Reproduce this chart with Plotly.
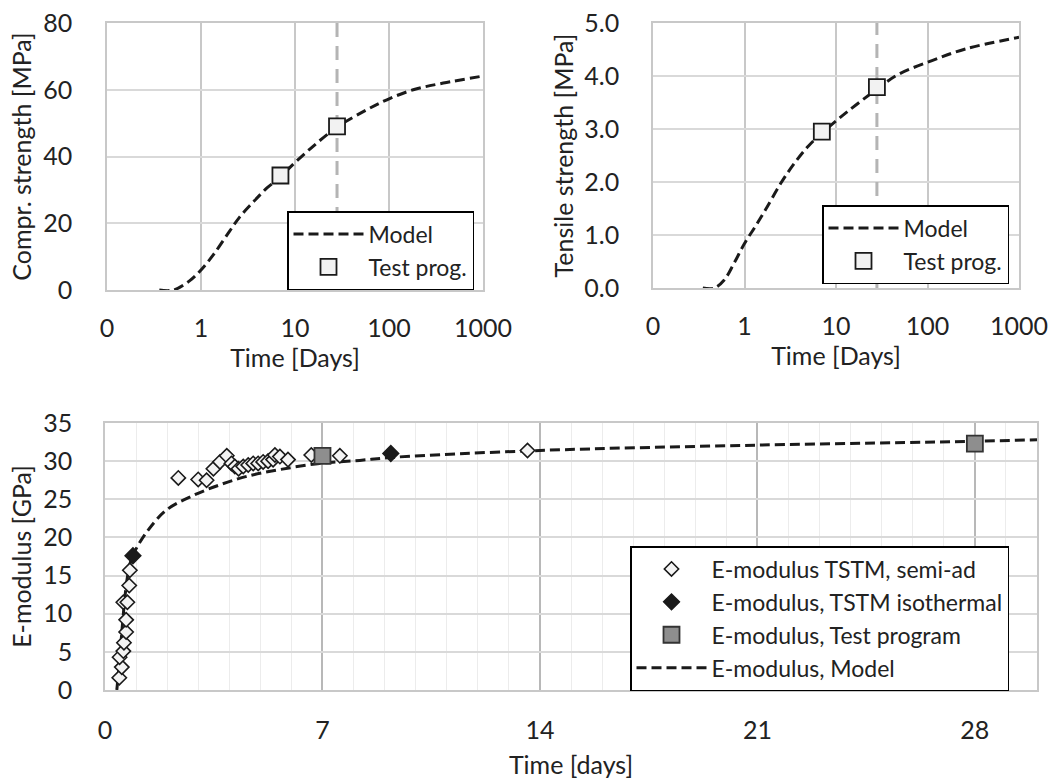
import plotly.graph_objects as go

# ---------------- data ----------------
# Compressive strength (top-left)
fc_model_t = [0.36, 0.51, 0.76, 1.0, 1.35, 2.0, 2.6, 3.5, 5.0, 7.0, 8.9, 14.5, 28, 58, 95, 181, 378, 1000]
fc_model_v = [0.0, 0.0, 2.8, 6.0, 10.5, 17.5, 22.0, 26.0, 30.5, 33.8, 36.8, 42.3, 48.8, 54.0, 57.0, 60.0, 62.0, 64.1]
fc_test_t = [7, 28]
fc_test_v = [34.3, 49.0]

# Tensile strength (top-right)
ft_model_t = [0.35, 0.47, 0.60, 0.77, 1.0, 1.3, 1.7, 2.5, 3.5, 5.0, 7.0, 13.6, 28, 48, 112, 259, 1000]
ft_model_v = [0.0, 0.0, 0.15, 0.47, 0.84, 1.15, 1.48, 1.98, 2.35, 2.68, 2.92, 3.34, 3.75, 4.03, 4.29, 4.51, 4.73]
ft_test_t = [7, 28]
ft_test_v = [2.95, 3.79]

# 28-day marker line
day28 = 28

# E-modulus (bottom)
e_semi_t = [0.46, 0.54, 0.47, 0.59, 0.61, 0.68, 0.68, 0.59, 0.72, 0.78, 0.80,
            2.36, 3.0, 3.27, 3.49, 3.70, 3.92, 4.07, 4.18, 4.30, 4.45, 4.61, 4.77,
            4.93, 5.09, 5.25, 5.41, 5.47, 5.63, 5.89, 6.64, 7.56, 13.6]
e_semi_v = [1.6, 3.0, 4.3, 5.1, 6.2, 7.6, 9.2, 11.5, 11.5, 13.7, 15.7,
            27.8, 27.6, 27.5, 29.0, 29.9, 30.7, 29.7, 29.3, 29.0, 29.3, 29.5, 29.7,
            29.7, 29.9, 30.0, 30.2, 30.8, 30.6, 30.2, 30.8, 30.7, 31.4]
e_iso_t = [0.9, 9.2]
e_iso_v = [17.6, 31.0]
e_test_t = [7, 28]
e_test_v = [30.7, 32.3]
e_model_t = [0.38, 0.45, 0.55, 0.65, 0.75, 0.85, 1.0, 1.34, 1.98, 2.84, 3.70, 4.56, 5.63,
             6.91, 8.2, 9.27, 14, 21, 28, 30]
e_model_v = [0.0, 3.0, 8.0, 12.5, 15.5, 17.2, 18.5, 20.7, 23.6, 25.5, 26.9, 28.0, 28.9,
             29.7, 30.1, 30.5, 31.4, 32.1, 32.6, 32.8]

log_ticks = [0.1, 1, 10, 100, 1000]
log_ticktext = ["0", "1", "10", "100", "1000"]

# ---------------- styles ----------------
FONT = "Lato, 'Open Sans', sans-serif"
FS_TICK = 25
FS_TITLE = 25
FS_LEG = 23
DARK = "#1a1a1a"
TXT = "#222222"
MODEL_DASH = "10px,5px"
GRID = "#d9d9d9"

fig = go.Figure()

# top-left
fig.add_trace(go.Scatter(x=[day28, day28], y=[0, 80], mode="lines",
                         line=dict(color="#b4b4b4", width=3, dash="14px,9px"),
                         showlegend=False, xaxis="x", yaxis="y", hoverinfo="skip"))
fig.add_trace(go.Scatter(x=fc_model_t, y=fc_model_v, mode="lines", name="Model",
                         line=dict(color=DARK, width=3, dash=MODEL_DASH, shape="spline"),
                         xaxis="x", yaxis="y", legend="legend"))
fig.add_trace(go.Scatter(x=fc_test_t, y=fc_test_v, mode="markers", name="Test prog.",
                         marker=dict(symbol="square", size=16, color="#f2f2f2",
                                     line=dict(color=DARK, width=1.8)),
                         xaxis="x", yaxis="y", legend="legend"))

# top-right
fig.add_trace(go.Scatter(x=[day28, day28], y=[0, 5], mode="lines",
                         line=dict(color="#b4b4b4", width=3, dash="14px,9px"),
                         showlegend=False, xaxis="x2", yaxis="y2", hoverinfo="skip"))
fig.add_trace(go.Scatter(x=ft_model_t, y=ft_model_v, mode="lines", name="Model",
                         line=dict(color=DARK, width=3, dash=MODEL_DASH, shape="spline"),
                         xaxis="x2", yaxis="y2", legend="legend2"))
fig.add_trace(go.Scatter(x=ft_test_t, y=ft_test_v, mode="markers", name="Test prog.",
                         marker=dict(symbol="square", size=16, color="#f2f2f2",
                                     line=dict(color=DARK, width=1.8)),
                         xaxis="x2", yaxis="y2", legend="legend2"))

# bottom
fig.add_trace(go.Scatter(x=e_model_t, y=e_model_v, mode="lines", name="E-modulus, Model",
                         line=dict(color=DARK, width=3, dash=MODEL_DASH, shape="spline"),
                         xaxis="x3", yaxis="y3", legend="legend3", legendrank=4))
fig.add_trace(go.Scatter(x=e_semi_t, y=e_semi_v, mode="markers", name="E-modulus TSTM, semi-ad",
                         marker=dict(symbol="diamond", size=11, color="#f4f4f4",
                                     line=dict(color=DARK, width=1.6)),
                         xaxis="x3", yaxis="y3", legend="legend3", legendrank=1))
fig.add_trace(go.Scatter(x=e_iso_t, y=e_iso_v, mode="markers", name="E-modulus, TSTM isothermal",
                         marker=dict(symbol="diamond", size=12, color=DARK,
                                     line=dict(color=DARK, width=1.6)),
                         xaxis="x3", yaxis="y3", legend="legend3", legendrank=2))
fig.add_trace(go.Scatter(x=e_test_t, y=e_test_v, mode="markers", name="E-modulus, Test program",
                         marker=dict(symbol="square", size=16, color="#8e8e8e",
                                     line=dict(color="#333333", width=1.8)),
                         xaxis="x3", yaxis="y3", legend="legend3", legendrank=3))

axis_common = dict(showline=True, linecolor="#c8c8c8", linewidth=1.5, mirror=True,
                   gridcolor=GRID, gridwidth=1.5, zeroline=False, ticks="", automargin=False,
                   tickfont=dict(family=FONT, size=FS_TICK, color=TXT))
title_font = dict(family=FONT, size=FS_TITLE, color=TXT)
leg_common = dict(xanchor="right", yanchor="top", bgcolor="white", bordercolor="black",
                  borderwidth=1.5, font=dict(family=FONT, size=FS_LEG, color=TXT),
                  tracegroupgap=0, itemwidth=70)

fig.update_layout(
    width=1053, height=780,
    margin=dict(l=0, r=0, t=0, b=0, pad=0, autoexpand=False),
    paper_bgcolor="white", plot_bgcolor="white",
    font=dict(family=FONT, size=FS_TICK, color=TXT),
    xaxis=dict(axis_common, type="log", range=[-1, 3], tickvals=log_ticks, ticktext=log_ticktext,
               domain=[107/1053, 483/1053], anchor="y", ticklabelstandoff=15,
               gridcolor="#c8c8c8",
               title=dict(text="Time [Days]", font=title_font, standoff=6)),
    yaxis=dict(axis_common, range=[0, 80], dtick=20, domain=[1-290/780, 1-23/780], anchor="x",
               ticklabelstandoff=28,
               title=dict(text="Compr. strength [MPa]", font=title_font, standoff=4)),
    xaxis2=dict(axis_common, type="log", range=[-1, 3], tickvals=log_ticks, ticktext=log_ticktext,
                domain=[653/1053, 1019/1053], anchor="y2", ticklabelstandoff=15,
                gridcolor="#c8c8c8",
                title=dict(text="Time [Days]", font=title_font, standoff=6)),
    yaxis2=dict(axis_common, range=[0, 5], dtick=1, tickformat=".1f",
                domain=[1-288/780, 1-23/780], anchor="x2", ticklabelstandoff=27,
                title=dict(text="Tensile strength [MPa]", font=title_font, standoff=4)),
    xaxis3=dict(axis_common, range=[0, 30], tick0=0, dtick=7, domain=[105/1053, 1037/1053],
                anchor="y3", ticklabelstandoff=17, gridcolor="#b8b8b8",
                minor=dict(dtick=1, tick0=0, showgrid=True, gridcolor="#ececec", gridwidth=1.2),
                title=dict(text="Time [days]", font=title_font, standoff=14)),
    yaxis3=dict(axis_common, range=[0, 35], dtick=5, domain=[1-690/780, 1-423/780], anchor="x3",
                ticklabelstandoff=26,
                title=dict(text="E-modulus [GPa]", font=title_font, standoff=4)),
    legend=dict(leg_common, x=474/1053, y=1-211/780),
    legend2=dict(leg_common, x=1009/1053, y=1-205/780),
    legend3=dict(leg_common, x=1009/1053, y=1-546/780, traceorder="normal"),
    showlegend=True,
)

fig.write_html("out.html")
